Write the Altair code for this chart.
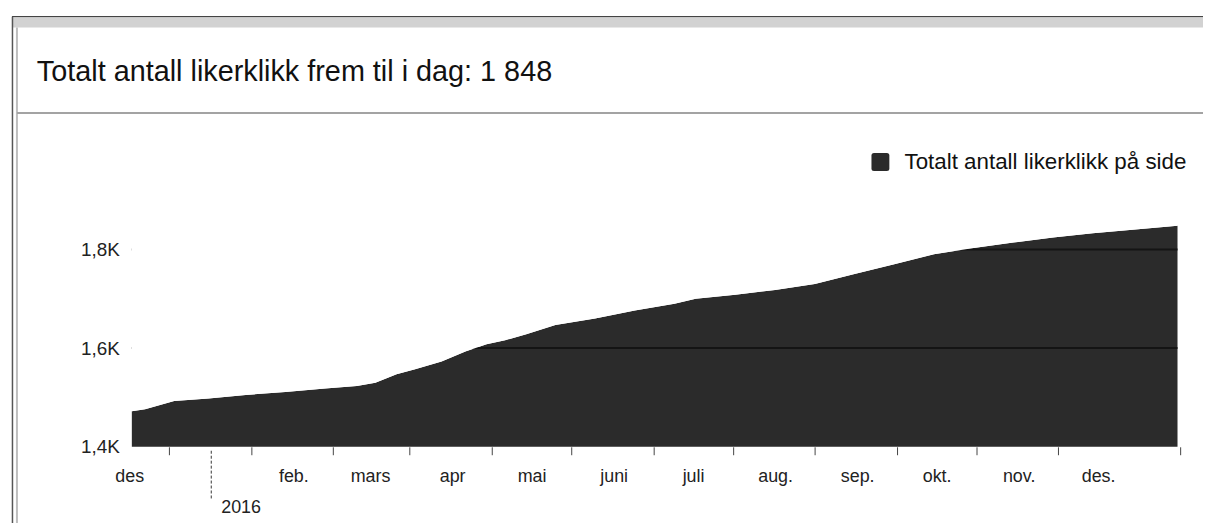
import altair as alt
import pandas as pd

# ---------------- data ----------------
dates = ["2015-12-02", "2015-12-07", "2015-12-18", "2015-12-31", "2016-01-14", "2016-01-29",
         "2016-02-13", "2016-02-25", "2016-03-03", "2016-03-11", "2016-03-18", "2016-03-28",
         "2016-04-06", "2016-04-14", "2016-04-21", "2016-04-29", "2016-05-10", "2016-05-25",
         "2016-06-09", "2016-06-24", "2016-07-02", "2016-07-17", "2016-08-01", "2016-08-16",
         "2016-08-31", "2016-09-15", "2016-09-30", "2016-10-15", "2016-10-30", "2016-11-14",
         "2016-11-29", "2016-12-14", "2016-12-31"]
values = [1472, 1476, 1493, 1498, 1505, 1511, 1518, 1523, 1530, 1547, 1557, 1573,
          1593, 1608, 1616, 1628, 1647, 1660, 1676, 1690, 1700, 1708, 1718, 1730,
          1750, 1770, 1790, 1803, 1814, 1824, 1833, 1840, 1848]
series_name = "Totalt antall likerklikk på side"
title_text = "Totalt antall likerklikk frem til i dag: 1 848"

y_domain = [1400, 2000]
y_ticks = [1400, 1600, 1800]
grid_values = [1600, 1800]
month_labels = ["des", "", "feb.", "mars", "apr", "mai", "juni", "juli", "aug.", "sep.", "okt.", "nov.", "des."]
year_marks = ["2016-01-01"]
year_texts = ["2016"]

# ---------------- helpers ----------------
FONT = "Liberation Sans"
W, H = 1058, 298
AREA = "#2b2b2b"

df = pd.DataFrame({"date": dates, "value": values, "series": series_name})
grid_df = pd.DataFrame({"g": grid_values, "start": dates[0], "end": dates[-1]})
year_df = pd.DataFrame({"date": year_marks, "label": year_texts})
one = pd.DataFrame({"k": [0]})

xscale = alt.Scale(type="utc",
                   domain=[alt.DateTime(year=2015, month=12, date=1, utc=True),
                           alt.DateTime(year=2017, month=1, date=1, utc=True)])
yscale = alt.Scale(domain=y_domain, nice=False, zero=False)

yaxis = alt.Axis(values=y_ticks, domain=False, ticks=False, grid=False, title=None,
                 labelPadding=10, labelFont=FONT, labelFontSize=19, labelColor="#222",
                 labelExpr="replace(format(datum.value/1000, '.1f'), '.', ',') + 'K'")

# tick positions (mid-month) and label positions (month starts)
tick_vals = []
for i in range(12):
    yr = 2015 + (11 + i) // 12
    mo = (11 + i) % 12 + 1
    tick_vals.append(alt.DateTime(year=yr, month=mo, date=16, utc=True))
tick_vals.append(alt.DateTime(year=2017, month=1, date=1, utc=True))

label_vals = []
for i in range(13):
    yr = 2015 + (11 + i) // 12
    mo = (11 + i) % 12 + 1
    label_vals.append(alt.DateTime(year=yr, month=mo, date=1, utc=True))

lab_arr = "[" + ",".join("'" + s + "'" for s in month_labels) + "]"
label_expr = lab_arr + "[(utcyear(datum.value)-2015)*12 + utcmonth(datum.value) - 11]"

axisA = alt.Axis(orient="bottom", values=tick_vals, labels=False, ticks=True, tickSize=8,
                 tickColor="#444", tickWidth=1, domain=False, grid=False, title=None)
axisB = alt.Axis(orient="bottom", values=label_vals, labelExpr=label_expr, ticks=False, tickSize=0,
                 domain=False, grid=False, title=None, labelPadding=35, labelBaseline="alphabetic",
                 labelFont=FONT, labelFontSize=18, labelColor="#222", labelAlign="center",
                 labelOverlap=False, labelFlush=False)

rounded = ("M -0.72,-1 H 0.72 Q 1,-1 1,-0.72 V 0.72 Q 1,1 0.72,1 H -0.72 "
           "Q -1,1 -1,0.72 V -0.72 Q -1,-1 -0.72,-1 Z")

area = alt.Chart(df).mark_area(interpolate="linear").encode(
    x=alt.X("date:T", scale=xscale, axis=axisA),
    y=alt.Y("value:Q", scale=yscale, stack=None, axis=yaxis),
    y2=alt.datum(y_domain[0]),
    color=alt.Color("series:N", scale=alt.Scale(range=[AREA]),
                    legend=alt.Legend(title=None, orient="none", legendX=745, legendY=0,
                                      symbolType=rounded, symbolSize=324, symbolStrokeWidth=0,
                                      labelFont=FONT, labelFontSize=22.5, labelColor="#111",
                                      labelOffset=13, labelLimit=600, padding=0)),
)

grid = alt.Chart(grid_df).mark_rule(color="#141414", strokeWidth=2).encode(
    x=alt.X("start:T", scale=xscale, axis=None),
    x2="end:T",
    y=alt.Y("g:Q", scale=yscale, axis=yaxis),
)

mask = alt.Chart(df).mark_area(color="white", interpolate="linear").encode(
    x=alt.X("date:T", scale=xscale, axis=axisB),
    y=alt.Y("value:Q", scale=yscale, stack=None, axis=yaxis),
    y2=alt.datum(y_domain[1]),
)

year_rule = alt.Chart(year_df).mark_rule(color="#333", strokeWidth=1, strokeDash=[3, 2]).encode(
    x=alt.X("date:T", scale=xscale, axis=None),
    y=alt.value(H + 4),
    y2=alt.value(H + 52),
)
year_text = alt.Chart(year_df).mark_text(align="left", baseline="alphabetic", dx=10,
                                         font=FONT, fontSize=18, color="#222").encode(
    x=alt.X("date:T", scale=xscale, axis=None),
    y=alt.value(H + 67),
    text="label:N",
)

# frame decorations (page coords minus plot origin 130,150)
top_line = alt.Chart(one).mark_rule(color="#444", strokeWidth=1.2).encode(
    x=alt.value(-118), x2=alt.value(1081), y=alt.value(-135))
top_band = alt.Chart(one).mark_rule(color="#d2d2d2", strokeWidth=10).encode(
    x=alt.value(-117), x2=alt.value(1081), y=alt.value(-129))
left_outer = alt.Chart(one).mark_rule(color="#555", strokeWidth=1.5).encode(
    x=alt.value(-117.5), y=alt.value(-135), y2=alt.value(380))
left_inner = alt.Chart(one).mark_rule(color="#bdbdbd", strokeWidth=2).encode(
    x=alt.value(-113), y=alt.value(-124), y2=alt.value(380))
sep_line = alt.Chart(one).mark_rule(color="#a3a3a3", strokeWidth=2).encode(
    x=alt.value(-113), x2=alt.value(1081), y=alt.value(-38))
title = alt.Chart(one).mark_text(align="left", baseline="alphabetic", font=FONT, fontSize=29,
                                 color="#111").encode(
    x=alt.value(-93), y=alt.value(-70), text=alt.value(title_text))

chart = alt.layer(
    area, grid, mask, year_rule, year_text,
    top_band, top_line, left_outer, left_inner, sep_line, title
).resolve_axis(x="independent").properties(
    width=W, height=H,
    autosize=alt.AutoSizeParams(type="none"),
    padding={"left": 122, "top": 142, "right": 23, "bottom": 75},
    background="white",
).configure_view(stroke=None)

chart.save("out.html", embed_options={"renderer": "svg", "actions": False})
